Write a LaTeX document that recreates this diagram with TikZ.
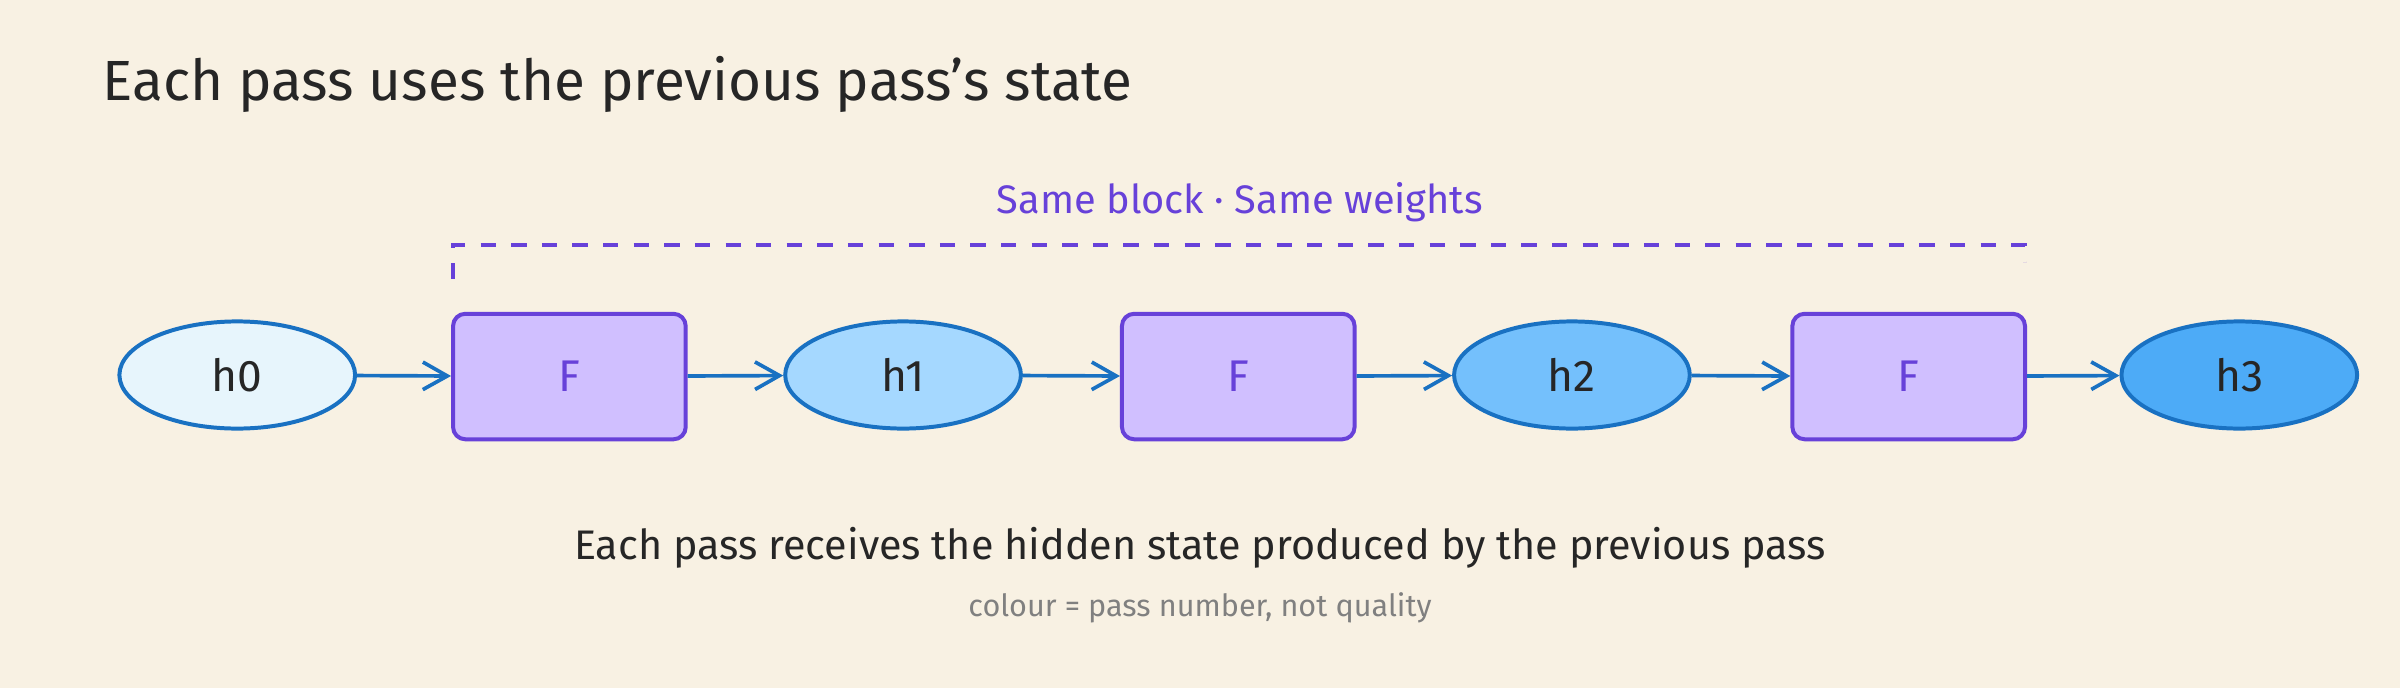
\documentclass[tikz,border=0pt]{standalone}
\usepackage{fontspec}
\setmainfont{Fira Sans}
\usetikzlibrary{shapes.geometric,arrows.meta}
\definecolor{bg}{HTML}{F8F1E3}
\definecolor{blu}{HTML}{1971C2}
\definecolor{pur}{HTML}{6741D9}
\definecolor{pfill}{HTML}{D0BFFF}
\definecolor{c0}{HTML}{E7F5FC}
\definecolor{c1}{HTML}{A5D8FF}
\definecolor{c2}{HTML}{74C0FC}
\definecolor{c3}{HTML}{4DABF7}
\begin{document}
\begin{tikzpicture}[x=0.5pt,y=-0.5pt,
  st/.style={ellipse,draw=blu,line width=1.3pt,minimum width=77pt,minimum height=35pt,font=\fontsize{14.5}{16}\selectfont,text=black!85},
  blk/.style={rectangle,rounded corners=4pt,draw=pur,fill=pfill,line width=1.3pt,minimum width=76pt,minimum height=41pt,font=\fontsize{14.5}{16}\selectfont,text=pur},
  arr/.style={draw=blu,line width=1.2pt,-{Straight Barb[length=8pt,width=9pt]}}]
\fill[bg] (0,0) rectangle (1568,449.5);
\useasboundingbox (0,0) rectangle (1568,449.5);
\node[anchor=west,font=\fontsize{18.5}{22}\selectfont,text=black!85] (title) at (60,55) {Each pass uses the previous pass’s state};
\node[font=\fontsize{13}{15}\selectfont,text=pur] (same) at (810,132) {Same block · Same weights};
\coordinate (b1) at (296,182); \coordinate (b2) at (296,160);
\coordinate (b3) at (1323,160); \coordinate (b4) at (1323,171);
\draw[pur,line width=1.2pt,dash pattern=on 5pt off 5pt] (b1) -- (b2) -- (b3) -- (b4);
\node[st,fill=c0] (h0) at (155,245) {h0};
\node[blk] (f1) at (372,246) {F};
\node[st,fill=c1] (h1) at (590,245) {h1};
\node[blk] (f2) at (809,246) {F};
\node[st,fill=c2] (h2) at (1027,245) {h2};
\node[blk] (f3) at (1247,246) {F};
\node[st,fill=c3] (h3) at (1463,245) {h3};
\draw[arr] (h0) -- (f1);
\draw[arr] (f1) -- (h1);
\draw[arr] (h1) -- (f2);
\draw[arr] (f2) -- (h2);
\draw[arr] (h2) -- (f3);
\draw[arr] (f3) -- (h3);
\node[font=\fontsize{13.5}{16}\selectfont,text=black!85] (cap) at (784,358) {Each pass receives the hidden state produced by the previous pass};
\node[font=\fontsize{10}{12}\selectfont,text=gray] (sub) at (784,397) {colour = pass number, not quality};
\end{tikzpicture}
\end{document}
